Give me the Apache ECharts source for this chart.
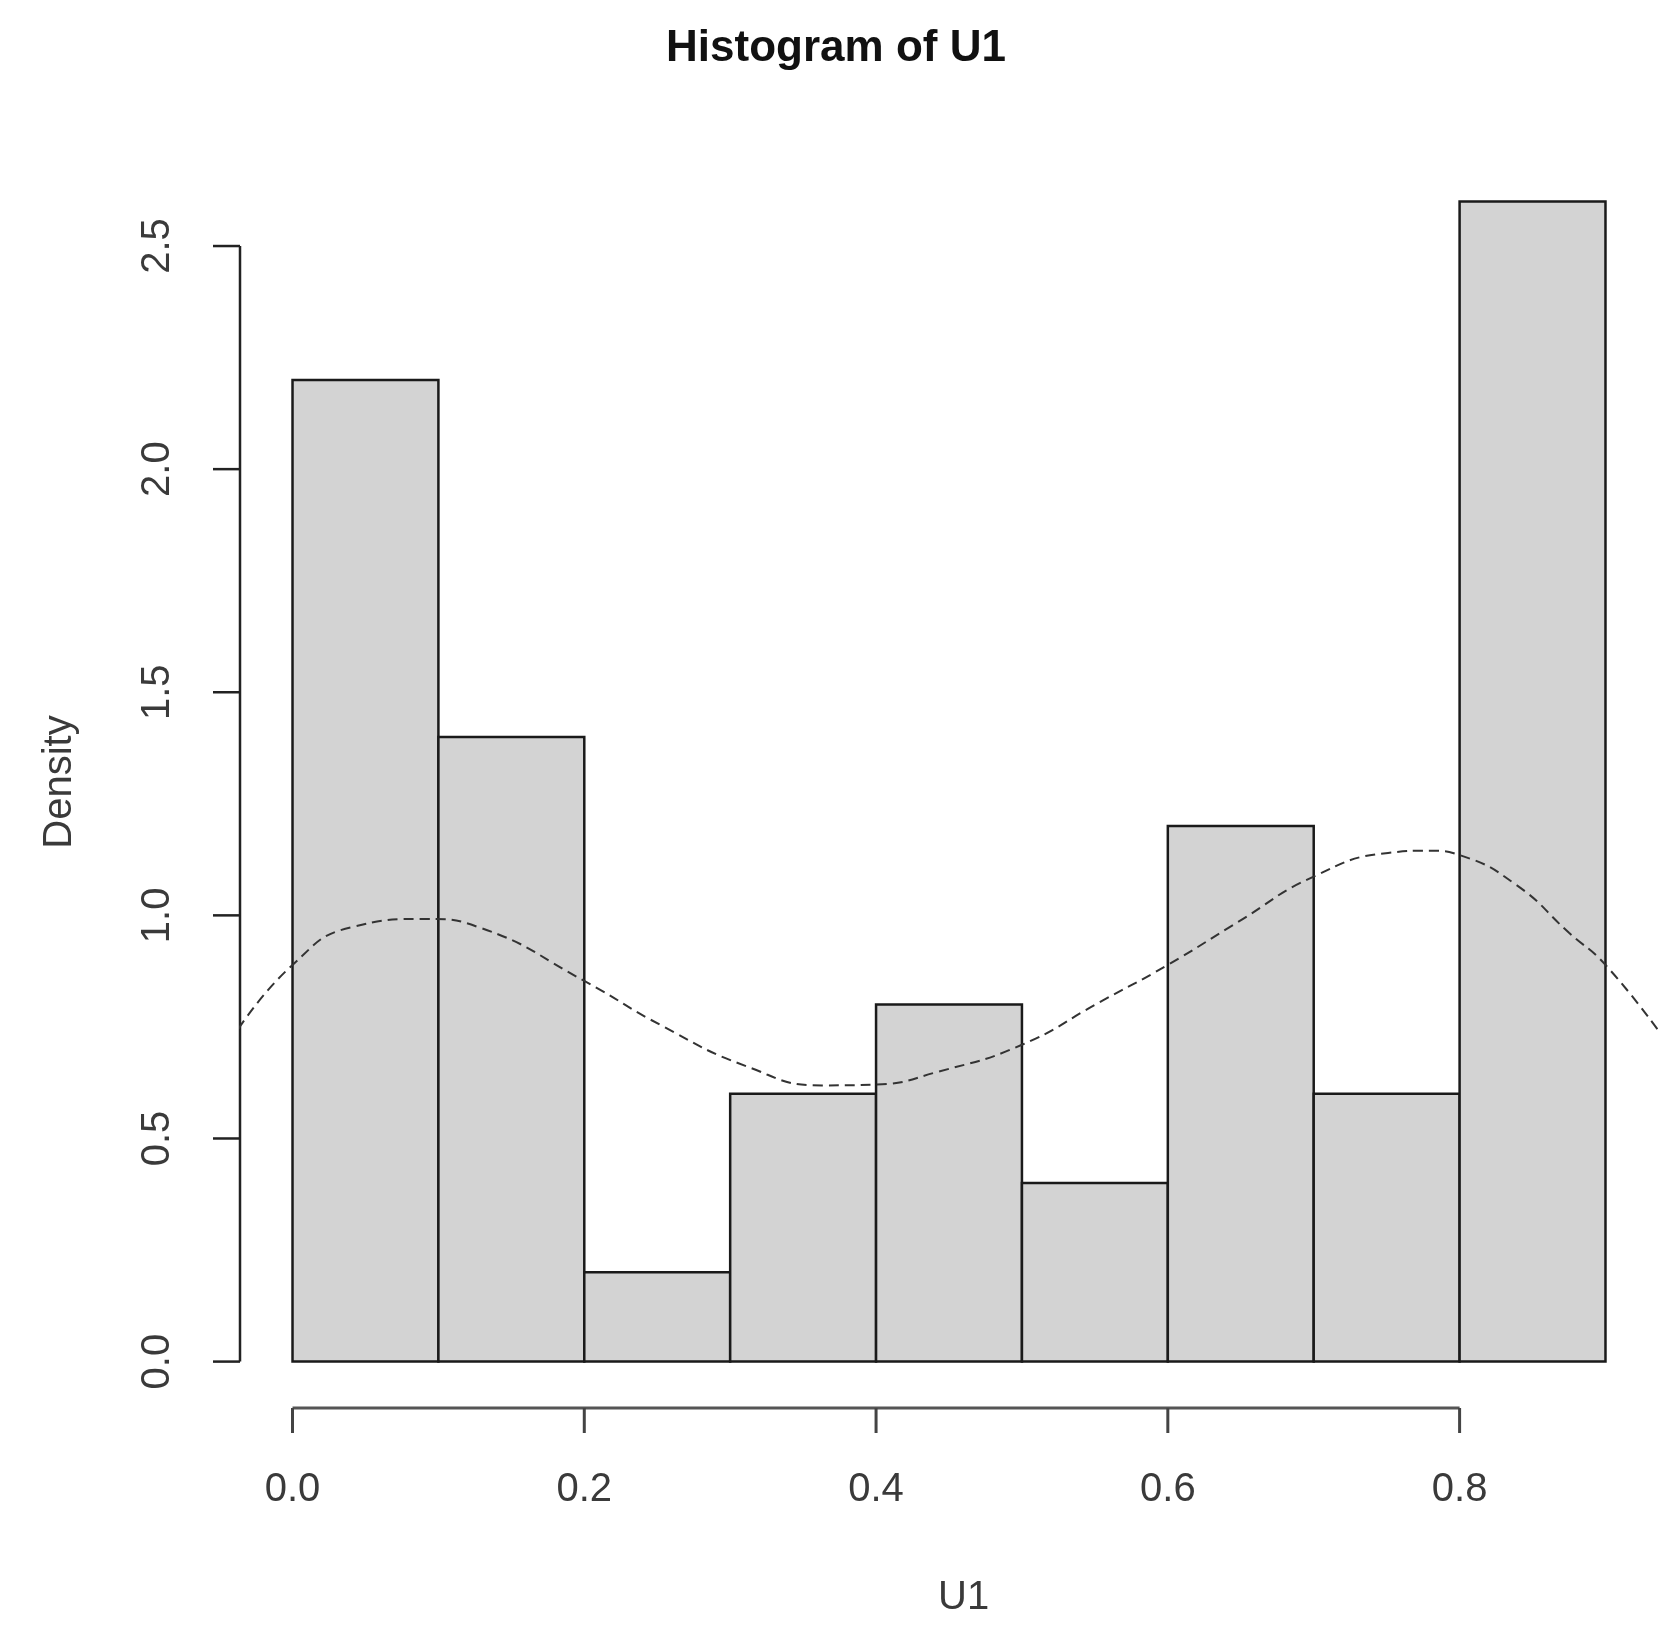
<!DOCTYPE html>
<html>
<head>
<meta charset="utf-8">
<script src="https://cdn.jsdelivr.net/npm/echarts@6/dist/echarts.min.js"></script>
<style>html,body{margin:0;padding:0;background:#fff}#chart{width:1672px;height:1631px}</style>
</head>
<body>
<div id="chart"></div>
<script>
// histogram bins and heights
const binStarts = [0.0, 0.1, 0.2, 0.3, 0.4, 0.5, 0.6, 0.7, 0.8];
const binWidth = 0.1;
const densities = [2.2, 1.4, 0.2, 0.6, 0.8, 0.4, 1.2, 0.6, 2.6];
// kernel density curve
const kdeX = [-0.037, 0.0, 0.04, 0.092, 0.128, 0.2, 0.253, 0.311, 0.363, 0.4, 0.443, 0.5, 0.553, 0.6, 0.648, 0.7, 0.751, 0.78, 0.8, 0.839, 0.875, 0.9, 0.938];
const kdeY = [0.746, 0.889, 0.973, 0.992, 0.973, 0.853, 0.753, 0.662, 0.619, 0.621, 0.65, 0.71, 0.805, 0.889, 0.985, 1.087, 1.14, 1.145, 1.135, 1.068, 0.961, 0.889, 0.734];
const xTicks = [0.0, 0.2, 0.4, 0.6, 0.8];
const yTicks = [0.0, 0.5, 1.0, 1.5, 2.0, 2.5];

const font = '"Liberation Sans", Arial, sans-serif';
const labelColor = '#3a3a3a';

const chart = echarts.init(document.getElementById('chart'));

function renderFrame(params, api) {
  const children = [];
  const axY = api.coord([0, -0.104])[1];
  const axX = api.coord([-0.036, 0])[0];
  const x0 = api.coord([xTicks[0], 0])[0];
  const x1 = api.coord([xTicks[xTicks.length - 1], 0])[0];
  children.push({ type: 'line', shape: { x1: x0, y1: axY, x2: x1, y2: axY }, style: { stroke: '#555', lineWidth: 3 } });
  xTicks.forEach(t => {
    const x = api.coord([t, 0])[0];
    children.push({ type: 'line', shape: { x1: x, y1: axY, x2: x, y2: axY + 25 }, style: { stroke: '#444', lineWidth: 3 } });
    children.push({ type: 'text', x: x, y: axY + 82, style: { text: t.toFixed(1), font: '40px ' + font, fill: labelColor, align: 'center', verticalAlign: 'middle' } });
  });
  const y0 = api.coord([0, yTicks[0]])[1];
  const y1 = api.coord([0, yTicks[yTicks.length - 1]])[1];
  children.push({ type: 'line', shape: { x1: axX, y1: y0, x2: axX, y2: y1 }, style: { stroke: '#222', lineWidth: 2.5 } });
  yTicks.forEach(t => {
    const y = api.coord([0, t])[1];
    children.push({ type: 'line', shape: { x1: axX - 27, y1: y, x2: axX, y2: y }, style: { stroke: '#222', lineWidth: 2.5 } });
    children.push({ type: 'text', x: axX - 82, y: y, rotation: Math.PI / 2, style: { text: t.toFixed(1), font: '40px ' + font, fill: labelColor, align: 'center', verticalAlign: 'middle' } });
  });
  return { type: 'group', children: children };
}

chart.setOption({
  animation: false,
  title: {
    text: 'Histogram of U1', left: 'center', top: 22,
    textStyle: { fontFamily: font, fontSize: 44, fontWeight: 'bold', color: '#111' }
  },
  graphic: [
    { type: 'text', left: 938, top: 1578, style: { text: 'U1', font: '40px ' + font, fill: labelColor } },
    { type: 'text', x: 60, y: 782, rotation: Math.PI / 2, style: { text: 'Density', font: '40px ' + font, fill: labelColor, align: 'center', verticalAlign: 'middle' } }
  ],
  grid: { left: 240, right: 14, top: 155, bottom: 223 },
  xAxis: { type: 'value', min: -0.036, max: 0.936, show: false },
  yAxis: { type: 'value', min: -0.104, max: 2.704, show: false },
  series: [
    {
      type: 'custom',
      data: binStarts.map((b, i) => [b, b + binWidth, densities[i]]),
      renderItem: (params, api) => {
        const p0 = api.coord([api.value(0), 0]);
        const p1 = api.coord([api.value(1), api.value(2)]);
        return { type: 'rect', shape: { x: p0[0], y: p1[1], width: p1[0] - p0[0], height: p0[1] - p1[1] },
          style: { fill: '#d3d3d3', stroke: '#1a1a1a', lineWidth: 2.5 } };
      },
      z: 1
    },
    {
      type: 'line', data: kdeX.map((x, i) => [x, kdeY[i]]), smooth: true, symbol: 'none',
      lineStyle: { color: '#333', width: 2, type: [10, 6] }, z: 3
    },
    { type: 'custom', data: [[0, 0]], renderItem: renderFrame, silent: true, z: 2 }
  ]
});
</script>
</body>
</html>
